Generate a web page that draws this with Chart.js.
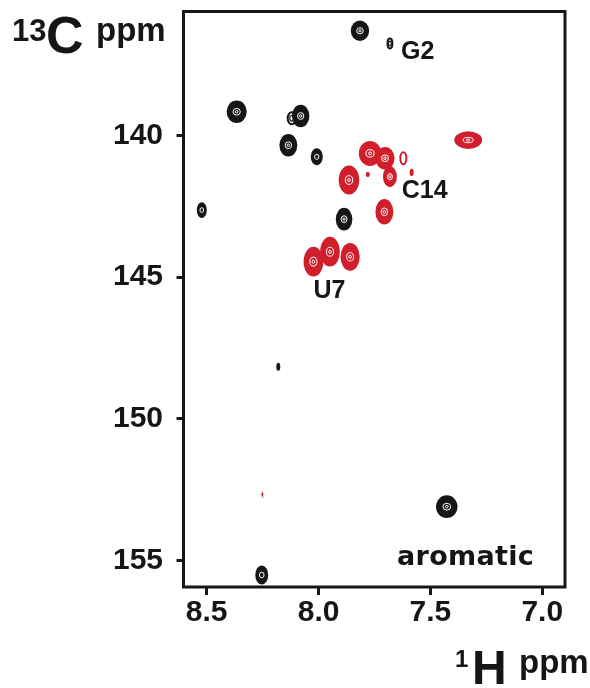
<!DOCTYPE html>
<html>
<head>
<meta charset="utf-8">
<title>Aromatic 1H-13C HSQC</title>
<script src="https://cdn.jsdelivr.net/npm/chart.js@4/dist/chart.umd.min.js"></script>
<style>
  html, body { margin: 0; padding: 0; background: #ffffff; }
  #wrap { width: 590px; height: 688px; }
</style>
</head>
<body>
<div id="wrap"><canvas id="hsqc" width="590" height="688"></canvas></div>
<script>
// ---- Cross peaks (1H / 13C chemical shifts in ppm) ----
// black spectrum
const blackH = [7.815, 7.681, 8.366, 8.120, 8.080, 8.135, 8.008, 7.886, 8.522, 8.180, 7.427, 8.254];
const blackC = [136.30, 136.75, 139.16, 139.39, 139.31, 140.34, 140.75, 142.95, 142.63, 148.16, 153.10, 155.51];
// peak widths (ppm) and number of contour levels above the floor
const blackWidthH = [0.082, 0.031, 0.090, 0.045, 0.078, 0.080, 0.054, 0.074, 0.045, 0.018, 0.096, 0.058];
const blackWidthC = [0.72, 0.42, 0.80, 0.49, 0.80, 0.80, 0.60, 0.80, 0.56, 0.28, 0.80, 0.67];
const blackLevels = [6, 2, 6, 2, 6, 6, 4, 6, 3, 1, 6, 4];

// red spectrum
const redH = [7.770, 7.703, 7.621, 7.681, 7.584, 7.780, 7.864, 7.331, 7.706, 8.023, 7.949, 7.859, 8.251];
const redC = [140.63, 140.80, 140.80, 141.45, 141.30, 141.37, 141.57, 140.16, 142.69, 144.45, 144.10, 144.28, 152.67];
const redWidthH = [0.100, 0.085, 0.036, 0.062, 0.018, 0.018, 0.092, 0.125, 0.080, 0.088, 0.088, 0.086, 0.013];
const redWidthC = [0.88, 0.80, 0.49, 0.74, 0.25, 0.18, 1.02, 0.62, 0.90, 1.05, 1.05, 0.98, 0.21];
const redLevels = [6, 6, 1, 5, 1, 2, 6, 5, 6, 6, 6, 6, 3];

// assignments
const assignText = ['G2', 'C14', 'U7'];
const assignH = [7.631, 7.628, 8.023];
const assignC = [137.30, 142.22, 145.75];

// axes
const xTicks = [8.5, 8.0, 7.5, 7.0];
const yTicks = [140, 145, 150, 155];
const xRange = [6.8985, 8.6037];
const yRange = [135.62, 155.935];

const INK = '#161616';
const RED = '#d01f2b';
const FONT = '"Liberation Sans", Arial, Helvetica, sans-serif';

function peaks(h, c, wh, wc, lv) {
  return h.map((v, i) => ({ x: v, y: c[i], wh: wh[i], wc: wc[i], lv: lv[i] }));
}

function drawPeak(ctx, px, py, rx, ry, levels, color) {
  ctx.save();
  if (levels >= 3) {
    ctx.fillStyle = color;
    ctx.beginPath();
    ctx.ellipse(px, py, rx, ry, 0, 0, Math.PI * 2);
    ctx.fill();
    ctx.strokeStyle = '#ffffff';
    ctx.lineWidth = 1;
    ctx.beginPath();
    ctx.ellipse(px, py, Math.max(rx * 0.36, 1.6), Math.max(ry * 0.3, 2), 0, 0, Math.PI * 2);
    ctx.stroke();
    if (levels >= 5) {
      ctx.beginPath();
      ctx.ellipse(px, py, Math.max(rx * 0.13, 0.8), Math.max(ry * 0.11, 1), 0, 0, Math.PI * 2);
      ctx.stroke();
    }
  } else {
    ctx.strokeStyle = color;
    ctx.lineWidth = 2;
    ctx.beginPath();
    ctx.ellipse(px, py, Math.max(rx - 1, 1), Math.max(ry - 1, 1), 0, 0, Math.PI * 2);
    ctx.stroke();
    if (levels === 2) {
      ctx.lineWidth = 1.2;
      ctx.beginPath();
      ctx.ellipse(px, py, Math.max(rx * 0.4, 1), Math.max(ry * 0.4, 1), 0, 0, Math.PI * 2);
      ctx.stroke();
    }
  }
  ctx.restore();
}

const contourPlugin = {
  id: 'contours',
  afterDatasetsDraw(chart) {
    const { ctx, chartArea: a, scales: { x, y } } = chart;
    ctx.save();
    ctx.beginPath();
    ctx.rect(a.left, a.top, a.right - a.left, a.bottom - a.top);
    ctx.clip();
    chart.data.datasets.forEach((ds, di) => {
      const meta = chart.getDatasetMeta(di);
      meta.data.forEach((el, i) => {
        const p = ds.data[i];
        const rx = Math.abs(x.getPixelForValue(p.x + p.wh / 2) - x.getPixelForValue(p.x - p.wh / 2)) / 2;
        const ry = Math.abs(y.getPixelForValue(p.y + p.wc / 2) - y.getPixelForValue(p.y - p.wc / 2)) / 2;
        drawPeak(ctx, el.x, el.y, rx, ry, p.lv, ds.peakColor);
      });
    });
    ctx.restore();
  },
  afterDraw(chart) {
    const { ctx, chartArea: a, scales: { x, y } } = chart;
    ctx.save();
    // plot frame
    ctx.strokeStyle = INK;
    ctx.lineWidth = 3;
    ctx.strokeRect(a.left, a.top, a.right - a.left, a.bottom - a.top);

    // assignment labels
    ctx.fillStyle = INK;
    ctx.textBaseline = 'alphabetic';
    ctx.textAlign = 'left';
    ctx.font = 'bold 25px ' + FONT;
    assignText.forEach((t, i) => {
      ctx.fillText(t, x.getPixelForValue(assignH[i]), y.getPixelForValue(assignC[i]));
    });

    // region label
    ctx.font = 'bold 27px "DejaVu Sans", sans-serif';
    ctx.letterSpacing = '0.3px';
    ctx.fillText('aromatic', 397, 565);
    ctx.letterSpacing = '0px';

    // vertical axis title: 13C ppm
    ctx.font = 'bold 31px ' + FONT;
    ctx.fillText('13', 12, 41);
    ctx.font = 'bold 52px ' + FONT;
    ctx.fillText('C', 46, 53);
    ctx.font = 'bold 33px ' + FONT;
    ctx.fillText('ppm', 96, 41);

    // horizontal axis title: 1H ppm
    ctx.font = 'bold 24px ' + FONT;
    ctx.fillText('1', 455, 667);
    ctx.font = 'bold 48px ' + FONT;
    ctx.fillText('H', 472, 684);
    ctx.font = 'bold 33px ' + FONT;
    ctx.fillText('ppm', 519, 673);
    ctx.restore();
  }
};

new Chart(document.getElementById('hsqc'), {
  type: 'scatter',
  data: {
    datasets: [
      { label: 'black', peakColor: INK, data: peaks(blackH, blackC, blackWidthH, blackWidthC, blackLevels), pointRadius: 0 },
      { label: 'red', peakColor: RED, data: peaks(redH, redC, redWidthH, redWidthC, redLevels), pointRadius: 0 }
    ]
  },
  options: {
    responsive: false,
    animation: false,
    devicePixelRatio: 1,
    events: [],
    layout: { padding: { top: 11.5, right: 25, left: 0, bottom: 0 } },
    plugins: { legend: { display: false }, tooltip: { enabled: false } },
    scales: {
      x: {
        type: 'linear',
        reverse: true,
        min: xRange[0],
        max: xRange[1],
        afterBuildTicks(s) { s.ticks = xTicks.map(v => ({ value: v })); },
        afterFit(s) { s.height = 101; s.paddingLeft = 0; s.paddingRight = 0; },
        border: { display: false },
        grid: { drawOnChartArea: false, drawTicks: true, tickLength: 8, tickWidth: 3, tickColor: INK },
        ticks: {
          color: INK,
          padding: 0,
          maxRotation: 0,
          font: { family: FONT, size: 30, weight: 'bold' },
          callback: v => Number(v).toFixed(1)
        }
      },
      y: {
        type: 'linear',
        reverse: true,
        min: yRange[0],
        max: yRange[1],
        afterBuildTicks(s) { s.ticks = yTicks.map(v => ({ value: v })); },
        afterFit(s) { s.width = 183.5; s.paddingTop = 0; s.paddingBottom = 0; },
        border: { display: false },
        grid: { drawOnChartArea: false, drawTicks: true, tickLength: 7, tickWidth: 3, tickColor: INK },
        ticks: {
          color: INK,
          padding: 13.5,
          font: { family: FONT, size: 30, weight: 'bold' },
          callback: v => String(v)
        }
      }
    }
  },
  plugins: [contourPlugin]
});
</script>
</body>
</html>
